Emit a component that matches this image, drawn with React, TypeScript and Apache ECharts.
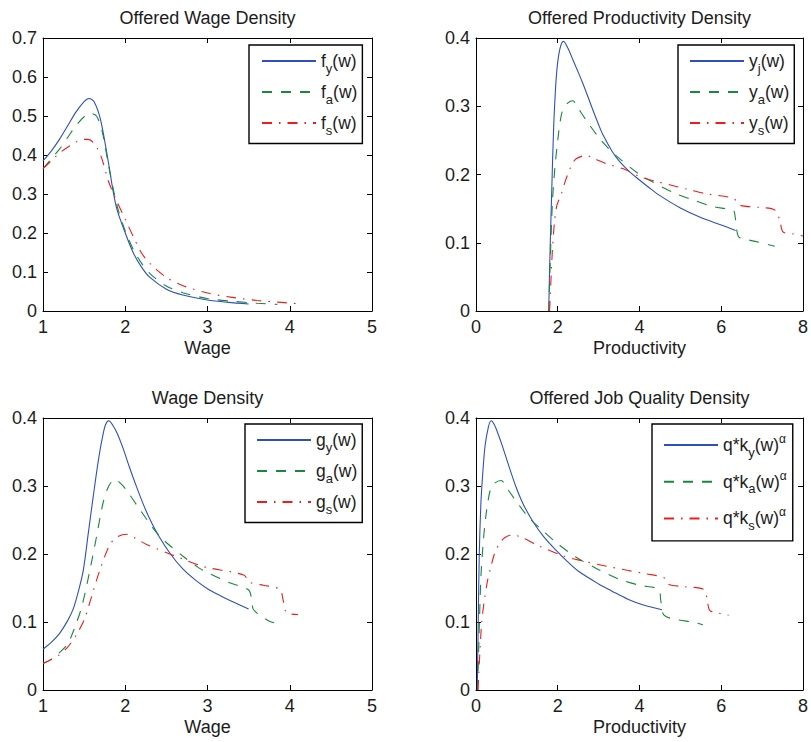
import React, { useEffect, useRef } from "react";
import * as echarts from "echarts";

// ---------- Data ----------
// Panel 1: Offered Wage Density  (x = wage, y = density)
const fY: number[][] = [
  [1.0, 0.385], [1.1, 0.41], [1.2, 0.44], [1.3, 0.475], [1.4, 0.51], [1.5, 0.537],
  [1.56, 0.545], [1.62, 0.537], [1.7, 0.49], [1.8, 0.375], [1.85, 0.31], [1.9, 0.26],
  [2.0, 0.2], [2.1, 0.148], [2.2, 0.112], [2.3, 0.086], [2.5, 0.056], [2.7, 0.041],
  [3.0, 0.028], [3.25, 0.022], [3.5, 0.018],
];
const fA: number[][] = [
  [1.0, 0.365], [1.1, 0.39], [1.2, 0.415], [1.3, 0.445], [1.4, 0.475], [1.5, 0.498],
  [1.57, 0.507], [1.65, 0.5], [1.72, 0.46], [1.8, 0.37], [1.9, 0.27], [2.0, 0.205],
  [2.1, 0.157], [2.2, 0.122], [2.3, 0.096], [2.5, 0.064], [2.7, 0.047], [3.0, 0.032],
  [3.3, 0.025], [3.6, 0.02], [3.85, 0.017],
];
const fS: number[][] = [
  [1.0, 0.365], [1.1, 0.385], [1.2, 0.405], [1.3, 0.42], [1.4, 0.433], [1.5, 0.44],
  [1.55, 0.44], [1.62, 0.43], [1.7, 0.4], [1.8, 0.33], [1.9, 0.28], [2.0, 0.235],
  [2.1, 0.19], [2.2, 0.148], [2.3, 0.122], [2.5, 0.086], [2.7, 0.065], [3.0, 0.046],
  [3.3, 0.035], [3.6, 0.027], [3.9, 0.022], [4.15, 0.018],
];

// Panel 2: Offered Productivity Density
const yJ: number[][] = [
  [1.78, 0], [1.8, 0.06], [1.85, 0.17], [1.9, 0.27], [1.95, 0.33], [2.0, 0.365],
  [2.07, 0.388], [2.14, 0.395], [2.25, 0.385], [2.37, 0.368], [2.5, 0.35], [2.61, 0.334],
  [2.75, 0.312], [2.85, 0.296], [3.0, 0.273], [3.1, 0.259], [3.34, 0.233], [3.5, 0.22],
  [3.74, 0.205], [4.0, 0.192], [4.23, 0.181], [4.5, 0.169], [5.0, 0.151], [5.5, 0.137],
  [6.0, 0.126], [6.35, 0.118],
];
const yA: number[][] = [
  [1.78, 0], [1.82, 0.08], [1.87, 0.16], [1.93, 0.21], [2.0, 0.25], [2.06, 0.278],
  [2.12, 0.294], [2.25, 0.305], [2.37, 0.308], [2.5, 0.297], [2.69, 0.28], [3.06, 0.25],
  [3.42, 0.228], [4.0, 0.2], [4.23, 0.192], [4.88, 0.172], [5.2, 0.165], [5.8, 0.153],
  [6.3, 0.147], [6.34, 0.138], [6.42, 0.109], [6.6, 0.105], [6.83, 0.102], [7.31, 0.095],
];
const yS: number[][] = [
  [1.8, 0], [1.83, 0.04], [1.87, 0.09], [1.92, 0.13], [1.98, 0.155], [2.08, 0.17],
  [2.16, 0.186], [2.25, 0.201], [2.35, 0.215], [2.45, 0.223], [2.69, 0.228], [2.9, 0.223],
  [3.18, 0.216], [3.66, 0.207], [4.0, 0.197], [4.39, 0.19], [4.8, 0.184], [5.2, 0.178],
  [5.61, 0.172], [6.3, 0.165], [6.46, 0.155], [6.9, 0.152], [7.31, 0.148], [7.43, 0.133],
  [7.51, 0.116], [7.75, 0.113], [8.0, 0.11],
];

// Panel 3: Wage Density
const gY: number[][] = [
  [1.0, 0.06], [1.1, 0.07], [1.2, 0.083], [1.3, 0.102], [1.37, 0.12], [1.43, 0.145],
  [1.49, 0.176], [1.55, 0.23], [1.61, 0.284], [1.67, 0.335], [1.72, 0.37], [1.76, 0.39],
  [1.8, 0.396], [1.85, 0.389], [1.9, 0.378], [1.975, 0.355], [2.05, 0.328], [2.14, 0.298],
  [2.22, 0.273], [2.3, 0.251], [2.4, 0.228], [2.55, 0.2], [2.7, 0.178], [2.85, 0.162],
  [3.0, 0.149], [3.15, 0.139], [3.3, 0.13], [3.5, 0.119],
];
const gA: number[][] = [
  [1.0, 0.039], [1.1, 0.045], [1.2, 0.055], [1.3, 0.068], [1.38, 0.09], [1.47, 0.122],
  [1.57, 0.176], [1.65, 0.225], [1.73, 0.275], [1.8, 0.3], [1.875, 0.31], [1.95, 0.303],
  [2.02, 0.293], [2.18, 0.265], [2.42, 0.226], [2.71, 0.196], [2.89, 0.18], [3.03, 0.171],
  [3.26, 0.158], [3.5, 0.147], [3.54, 0.13], [3.56, 0.118], [3.74, 0.102], [3.9, 0.096],
];
const gS: number[][] = [
  [1.0, 0.039], [1.1, 0.045], [1.2, 0.052], [1.3, 0.063], [1.4, 0.08], [1.5, 0.103],
  [1.59, 0.137], [1.69, 0.176], [1.81, 0.213], [1.9, 0.225], [2.02, 0.229], [2.14, 0.222],
  [2.26, 0.214], [2.54, 0.2], [2.67, 0.194], [2.91, 0.183], [3.0, 0.18], [3.44, 0.169],
  [3.52, 0.158], [3.68, 0.154], [3.88, 0.148], [3.92, 0.132], [3.96, 0.114], [4.1, 0.111],
];

// Panel 4: Offered Job Quality Density
const qY: number[][] = [
  [0.03, 0], [0.05, 0.08], [0.08, 0.2], [0.12, 0.275], [0.16, 0.314], [0.22, 0.358],
  [0.3, 0.386], [0.37, 0.396], [0.45, 0.39], [0.55, 0.375], [0.65, 0.358], [0.8, 0.33],
  [0.97, 0.3], [1.15, 0.274], [1.38, 0.249], [1.65, 0.226], [1.95, 0.206], [2.2, 0.191],
  [2.5, 0.175], [3.0, 0.156], [3.34, 0.145], [3.7, 0.134], [4.1, 0.125], [4.55, 0.118],
];
const qA: number[][] = [
  [0.04, 0], [0.07, 0.07], [0.12, 0.166], [0.18, 0.22], [0.24, 0.255], [0.3, 0.28],
  [0.36, 0.296], [0.45, 0.304], [0.61, 0.308], [0.8, 0.293], [1.05, 0.272], [1.3, 0.253],
  [1.62, 0.235], [2.0, 0.215], [2.43, 0.196], [3.0, 0.177], [3.5, 0.163], [4.0, 0.154],
  [4.47, 0.148], [4.52, 0.132], [4.6, 0.11], [4.96, 0.103], [5.3, 0.1], [5.55, 0.096],
];
const qS: number[][] = [
  [0.05, 0], [0.09, 0.05], [0.14, 0.1], [0.2, 0.13], [0.28, 0.16], [0.36, 0.18],
  [0.45, 0.2], [0.57, 0.215], [0.7, 0.224], [0.89, 0.228], [1.1, 0.225], [1.54, 0.212],
  [2.1, 0.198], [2.52, 0.191], [3.2, 0.182], [3.7, 0.176], [4.15, 0.171], [4.6, 0.165],
  [4.72, 0.155], [5.1, 0.152], [5.57, 0.148], [5.65, 0.135], [5.72, 0.117], [5.95, 0.113],
  [6.18, 0.11],
];

const titles = ["Offered Wage Density", "Offered Productivity Density", "Wage Density", "Offered Job Quality Density"];
const xNames = ["Wage", "Productivity", "Wage", "Productivity"];
const xRanges = [[1, 5, 1], [0, 8, 2], [1, 5, 1], [0, 8, 2]];
const yRanges = [[0, 0.7, 0.1], [0, 0.4, 0.1], [0, 0.4, 0.1], [0, 0.4, 0.1]];

const seriesNames = [
  ["fy", "fa", "fs"],
  ["yj", "ya", "ys"],
  ["gy", "ga", "gs"],
  ["qy", "qa", "qs"],
];
const legendLabels: Record<string, string> = {
  fy: "f{sub|y}(w)", fa: "f{sub|a}(w)", fs: "f{sub|s}(w)",
  yj: "y{sub|j}(w)", ya: "y{sub|a}(w)", ys: "y{sub|s}(w)",
  gy: "g{sub|y}(w)", ga: "g{sub|a}(w)", gs: "g{sub|s}(w)",
  qy: "q*k{sub|y}(w){sup|α}", qa: "q*k{sub|a}(w){sup|α}", qs: "q*k{sub|s}(w){sup|α}",
};
const panelData = [[fY, fA, fS], [yJ, yA, yS], [gY, gA, gS], [qY, qA, qS]];

// ---------- Styles ----------
const FONT = '"Liberation Sans", Arial, Helvetica, sans-serif';
const TXT = "#1c1c1c";
const COLORS = ["#2d4fc2", "#17883c", "#f01c1c"];
const DASHES: any[] = ["solid", [10, 9], [10, 7, 1.5, 7]];

const grids = [
  { left: 43, top: 38, width: 329, height: 273 },
  { left: 476, top: 38, width: 329, height: 273 },
  { left: 43, top: 418, width: 329, height: 272 },
  { left: 476, top: 418, width: 329, height: 272 },
];
const legendPos = [
  { left: 249, top: 45, padding: [7, 5, 7, 12], itemGap: 8.5 },
  { left: 678, top: 45, padding: [7, 5, 7, 11], itemGap: 8.5 },
  { left: 245, top: 424, padding: [7, 5, 7, 11], itemGap: 8.5 },
  { left: 652, top: 424, padding: [9, 6, 9, 11], itemGap: 11.2 },
];

function buildOption(): any {
  const xAxis: any[] = [];
  const yAxis: any[] = [];
  const series: any[] = [];
  const legend: any[] = [];
  const lineCol = "#000";

  grids.forEach((_, i) => {
    const [xmin, xmax, xint] = xRanges[i];
    const [ymin, ymax, yint] = yRanges[i];
    const tick = { show: true, inside: true, length: 5, lineStyle: { color: lineCol, width: 1 } };
    const axLine = { show: true, onZero: false, lineStyle: { color: lineCol, width: 1 } };
    xAxis.push({
      type: "value", gridIndex: i, position: "bottom", min: xmin, max: xmax, interval: xint,
      name: xNames[i], nameLocation: "middle", nameGap: 28,
      nameTextStyle: { fontSize: 18, color: TXT, fontFamily: FONT },
      axisLine: axLine, axisTick: tick,
      axisLabel: { fontSize: 18, color: TXT, fontFamily: FONT, margin: 7 },
      splitLine: { show: false },
    });
    xAxis.push({
      type: "value", gridIndex: i, position: "top", min: xmin, max: xmax, interval: xint,
      name: titles[i], nameLocation: "middle", nameGap: 11,
      nameTextStyle: { fontSize: 18, color: TXT, fontFamily: FONT },
      axisLine: axLine, axisTick: tick, axisLabel: { show: false }, splitLine: { show: false },
    });
    yAxis.push({
      type: "value", gridIndex: i, position: "left", min: ymin, max: ymax, interval: yint,
      axisLine: axLine, axisTick: tick,
      axisLabel: {
        fontSize: 18, color: TXT, fontFamily: FONT, margin: 6,
        formatter: (v: number) => (Math.abs(v) < 1e-9 ? "0" : v.toFixed(1)),
      },
      splitLine: { show: false },
    });
    yAxis.push({
      type: "value", gridIndex: i, position: "right", min: ymin, max: ymax, interval: yint,
      axisLine: axLine, axisTick: tick, axisLabel: { show: false }, splitLine: { show: false },
    });

    seriesNames[i].forEach((nm, k) => {
      series.push({
        type: "line", name: nm, xAxisIndex: 2 * i, yAxisIndex: 2 * i,
        data: panelData[i][k], symbol: "none", showSymbol: false,
        smooth: 0.3,
        lineStyle: { color: COLORS[k], width: 1.1, type: DASHES[k] },
        itemStyle: { color: COLORS[k] },
        emphasis: { disabled: true },
      });
    });

    const lp = legendPos[i];
    legend.push({
      orient: "vertical", left: lp.left, top: lp.top, padding: lp.padding, itemGap: lp.itemGap,
      data: seriesNames[i], itemWidth: 54, itemHeight: 12, selectedMode: false,
      borderColor: "#000", borderWidth: 1.4, backgroundColor: "#fff", borderRadius: 0,
      itemStyle: { opacity: 0 },
      formatter: (n: string) => legendLabels[n],
      textStyle: {
        fontSize: 17.5, color: TXT, fontFamily: FONT,
        rich: {
          sub: { fontSize: 13, color: TXT, fontFamily: FONT, padding: [14, 0, 0, 0] },
          sup: { fontSize: 12, color: TXT, fontFamily: FONT, padding: [0, 0, 12, 0] },
        },
      },
    });
  });

  return {
    animation: false,
    backgroundColor: "#fff",
    grid: grids.map((g) => ({ ...g, containLabel: false })),
    xAxis, yAxis, series, legend,
  };
}

export default function App() {
  const ref = useRef<HTMLDivElement>(null);
  useEffect(() => {
    if (!ref.current) return;
    const chart = echarts.init(ref.current, undefined, { renderer: "svg" });
    chart.setOption(buildOption());
    return () => chart.dispose();
  }, []);
  return (
    <div
      ref={ref}
      style={{ position: "fixed", left: 0, top: 0, width: 811, height: 742, background: "#fff" }}
    />
  );
}
